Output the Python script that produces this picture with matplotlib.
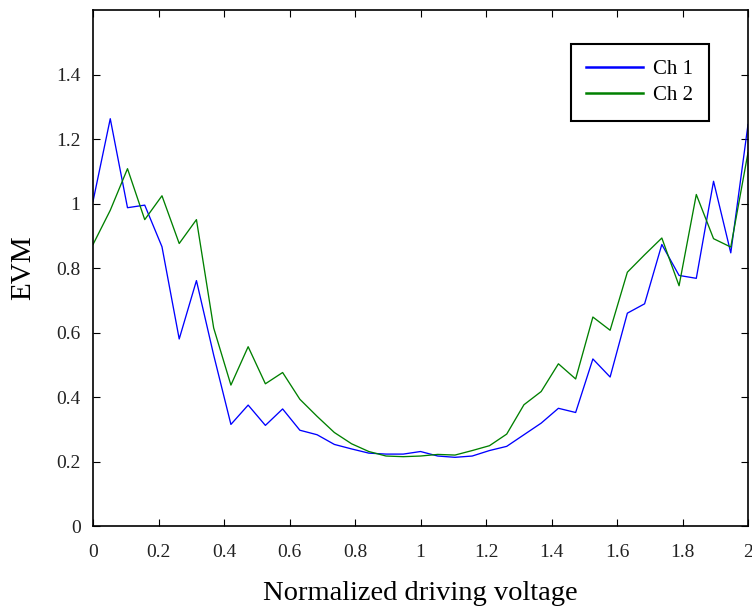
import matplotlib

matplotlib.use("Agg")
import matplotlib.pyplot as plt
import numpy as np

plt.rcParams["font.family"] = ["Liberation Serif", "DejaVu Serif"]

# 39 samples evenly spread over 0..2
voltage = np.linspace(0, 2, 39)
ch1 = [1.007, 1.263, 0.987, 0.995, 0.866, 0.580, 0.761, 0.530, 0.315, 0.375,
       0.312, 0.363, 0.297, 0.283, 0.253, 0.239, 0.226, 0.223, 0.223, 0.231,
       0.217, 0.213, 0.217, 0.234, 0.247, 0.283, 0.319, 0.365, 0.352, 0.518,
       0.462, 0.660, 0.689, 0.873, 0.777, 0.768, 1.069, 0.847, 1.245]
ch2 = [0.873, 0.979, 1.108, 0.950, 1.024, 0.876, 0.950, 0.614, 0.437, 0.556,
       0.441, 0.476, 0.393, 0.340, 0.290, 0.255, 0.231, 0.217, 0.215, 0.217,
       0.222, 0.220, 0.234, 0.249, 0.285, 0.376, 0.417, 0.503, 0.456, 0.648,
       0.607, 0.787, 0.841, 0.893, 0.745, 1.028, 0.891, 0.865, 1.158]
xticks = [0, 0.2, 0.4, 0.6, 0.8, 1, 1.2, 1.4, 1.6, 1.8, 2]
yticks = [0, 0.2, 0.4, 0.6, 0.8, 1, 1.2, 1.4]

fig = plt.figure(figsize=(7.52, 6.11), dpi=100)
ax = fig.add_axes([0.1237, 0.1391, 0.8710, 0.8445])

ax.plot(voltage, ch1, color="#0000ff", lw=0.95, label="Ch 1")
ax.plot(voltage, ch2, color="#008000", lw=0.95, label="Ch 2")

ax.set_xlim(0, 2)
ax.set_ylim(0, 1.6)
ax.set_xticks(xticks, [f"{t:g}" for t in xticks])
ax.set_yticks(yticks, [f"{t:g}" for t in yticks])
ax.tick_params(direction="in", top=True, right=True, labelsize=14,
               length=5, width=0.8, pad=9, labelcolor="#222222")
ax.tick_params(axis="x", pad=13)
for s in ax.spines.values():
    s.set_linewidth(1.2)

ax.set_xlabel("Normalized driving voltage", fontsize=20.5, labelpad=14)
ax.set_ylabel("EVM", fontsize=21, labelpad=14)

leg = ax.legend(loc="upper right", bbox_to_anchor=(0.940, 0.934),
                borderaxespad=0, fontsize=15, fancybox=False, framealpha=1,
                edgecolor="black", handlelength=2.7, handletextpad=0.5,
                borderpad=0.75, labelspacing=0.3)
leg.get_frame().set_linewidth(1.5)
for h in leg.get_lines():
    h.set_linewidth(1.8)

fig.savefig("out.png", dpi=100)
